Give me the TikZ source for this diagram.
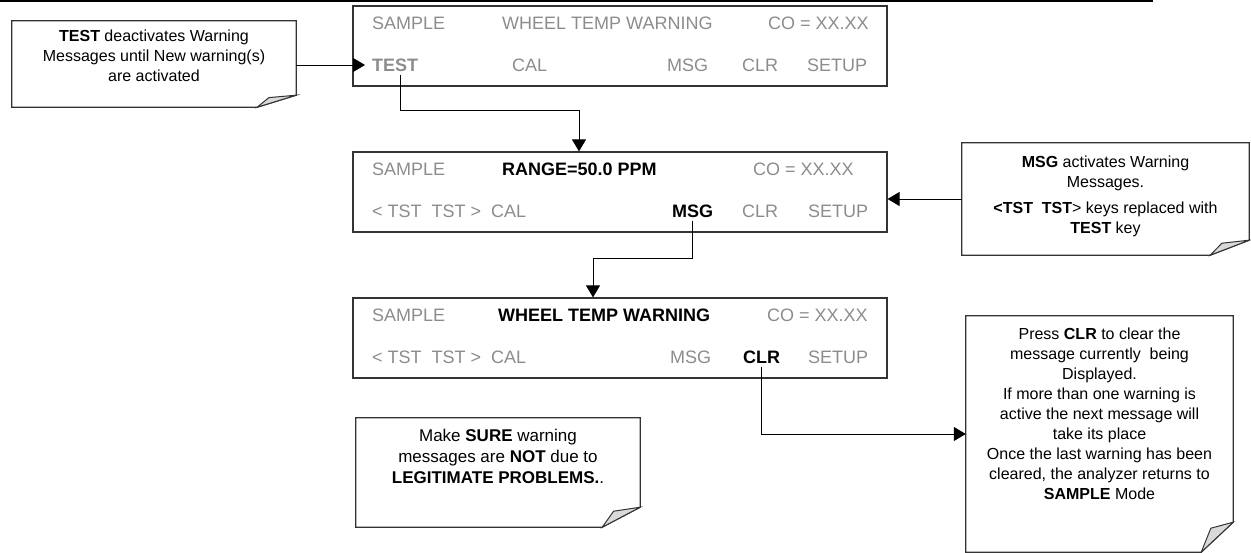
\documentclass[tikz,border=0pt]{standalone}
\usepackage{fontspec}
\setmainfont{Liberation Sans}
\usetikzlibrary{arrows.meta, positioning}
\definecolor{lcdGray}{HTML}{8C8C8C}
\definecolor{frameGray}{HTML}{333333}
\definecolor{foldGray}{HTML}{D9D9D9}

% outline of a note with a curled lower right corner
\newcommand{\dogear}[3]{% node, fold width, fold height
  \draw[noteline] (#1.south west) -- (#1.north west) -- (#1.north east)
    -- ([yshift=#3]#1.south east) -- ([xshift=-#2]#1.south east) -- cycle;
  \filldraw[fold] ([yshift=#3]#1.south east) -- ([xshift=-0.7*#2, yshift=0.8*#3]#1.south east)
    -- ([xshift=-#2]#1.south east) -- cycle;
}

\begin{document}
\begin{tikzpicture}[
    x=1pt, y=-1pt,
    display/.style={rectangle, draw=frameGray, line width=1.2pt, minimum width=534pt,
                    minimum height=80pt, inner sep=0pt},
    lcd/.style={anchor=west, inner sep=0pt, text=lcdGray, font=\fontsize{18}{22}\selectfont},
    hot/.style={lcd, text=black, font=\fontsize{18}{22}\selectfont\bfseries},
    note/.style={rectangle, inner sep=0pt},
    notetext/.style={align=center, inner sep=0pt, font=\fontsize{16}{20}\selectfont},
    noteline/.style={draw=frameGray, line width=1.2pt},
    fold/.style={fill=foldGray, draw=frameGray, line width=1pt},
    arrow/.style={-{Triangle[length=12pt, width=14pt]}, line width=1pt}
]
\useasboundingbox (0,0) rectangle (1251,552);

\draw[line width=1.5pt] (0,1) -- (1153,1);

% displays
\node[display] (disp1) at (620,46) {};
\node[display] (disp2) at (620,192) {};
\node[display] (disp3) at (620,338) {};

\node[lcd] (d1_sample) at (372,23) {SAMPLE};
\node[lcd] (d1_warn) at (502,23) {WHEEL TEMP WARNING};
\node[lcd] (d1_co) at (768,23) {CO = XX.XX};
\node[lcd, font=\fontsize{18}{22}\selectfont\bfseries] (d1_test) at (372,65) {TEST};
\node[lcd] (d1_cal) at (512,65) {CAL};
\node[lcd] (d1_msg) at (667,65) {MSG};
\node[lcd] (d1_clr) at (742,65) {CLR};
\node[lcd] (d1_setup) at (807,65) {SETUP};

\node[lcd] (d2_sample) at (372,169) {SAMPLE};
\node[hot] (d2_range) at (502,169) {RANGE=50.0 PPM};
\node[lcd] (d2_co) at (753,169) {CO = XX.XX};
\node[lcd] (d2_tst) at (372,211) {< TST\ \ TST >\ \ CAL};
\node[hot] (d2_msg) at (672,211) {MSG};
\node[lcd] (d2_clr) at (742,211) {CLR};
\node[lcd] (d2_setup) at (808,211) {SETUP};

\node[lcd] (d3_sample) at (372,315) {SAMPLE};
\node[hot] (d3_warn) at (498,315) {WHEEL TEMP WARNING};
\node[lcd] (d3_co) at (767,315) {CO = XX.XX};
\node[lcd] (d3_tst) at (372,357) {< TST\ \ TST >\ \ CAL};
\node[lcd] (d3_msg) at (670,357) {MSG};
\node[hot] (d3_clr) at (743,357) {CLR};
\node[lcd] (d3_setup) at (808,357) {SETUP};

% notes
\node[note, minimum width=284pt, minimum height=86pt] (test_note) at (154,64) {};
\node[note, minimum width=287pt, minimum height=112pt] (msg_note) at (1105.5,199) {};
\node[note, minimum width=267pt, minimum height=236pt] (clr_note) at (1099.5,434) {};
\node[note, minimum width=284pt, minimum height=109pt] (sure_note) at (498,472.5) {};
\dogear{test_note}{39pt}{12pt}
\dogear{msg_note}{39pt}{15pt}
\dogear{clr_note}{32pt}{30pt}
\dogear{sure_note}{38pt}{20pt}

\node[notetext, below=9pt of test_note.north] (test_text)
  {\textbf{TEST} deactivates Warning\\Messages until New warning(s)\\are activated};
\node[notetext, below=13pt of msg_note.north] (msg_text)
  {\textbf{MSG} activates Warning\\Messages.\\[6pt]\textbf{<TST\ \ TST}> keys replaced with\\\textbf{TEST} key};
\node[notetext, below=12pt of clr_note.north] (clr_text)
  {Press \textbf{CLR} to clear the\\message currently\ \ being\\Displayed.\\If more than one warning is\\active the next message will\\take its place\\Once the last warning has been\\cleared, the analyzer returns to\\\textbf{SAMPLE} Mode};
\node[notetext, below=11pt of sure_note.north, font=\fontsize{17}{21}\selectfont] (sure_text)
  {Make \textbf{SURE} warning\\messages are \textbf{NOT} due to\\\textbf{LEGITIMATE PROBLEMS.}.};

% connectors
\coordinate (turn1) at (579,110);
\coordinate (turn2) at (593,258);
\draw[arrow] (test_note.east |- d1_test.west) -- ([xshift=-7pt]d1_test.west);
\draw[arrow] ([xshift=5pt, yshift=-3pt]d1_test.south) |- (turn1) -- (turn1 |- disp2.north);
\draw[arrow] (msg_note.west) -- (msg_note.west -| disp2.east);
\draw[arrow] ([yshift=-3pt]d2_msg.south) |- (turn2) -- (turn2 |- disp3.north);
\draw[arrow] ([yshift=-3pt]d3_clr.south) |- (clr_note.west);

\end{tikzpicture}
\end{document}
